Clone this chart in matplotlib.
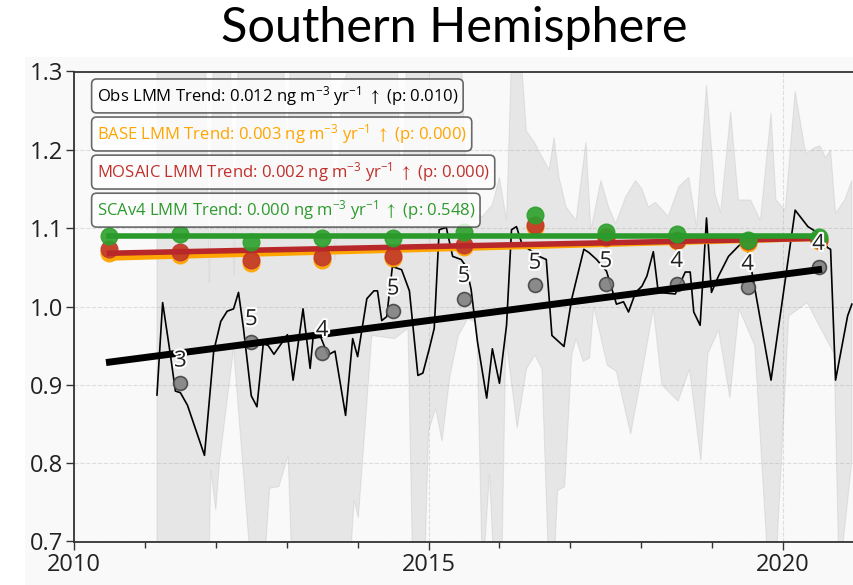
import numpy as np
import matplotlib
matplotlib.use("Agg")
import matplotlib.pyplot as plt
import matplotlib.patheffects as pe
from matplotlib.patches import Rectangle
from matplotlib.ticker import MultipleLocator

plt.rcParams['font.family'] = ['Open Sans', 'DejaVu Sans']
plt.rcParams['mathtext.fontset'] = 'custom'
plt.rcParams['mathtext.rm'] = 'Open Sans'
plt.rcParams['mathtext.default'] = 'regular'
plt.rcParams['mathtext.fallback'] = 'stixsans'

# monthly obs (black line)
obs_t = [2011.17, 2011.25, 2011.36, 2011.43, 2011.50, 2011.60, 2011.84, 2011.97, 2012.07, 2012.16,
         2012.25, 2012.32, 2012.39, 2012.50, 2012.58, 2012.67, 2012.74, 2012.82, 2013.01, 2013.09,
         2013.23, 2013.33, 2013.37, 2013.47, 2013.58, 2013.68, 2013.83, 2013.93, 2014.00, 2014.13,
         2014.23, 2014.28, 2014.34, 2014.41, 2014.49, 2014.62, 2014.73, 2014.85, 2014.92, 2015.01,
         2015.08, 2015.15, 2015.25, 2015.34, 2015.46, 2015.53, 2015.60, 2015.69, 2015.82, 2015.90,
         2016.00, 2016.10, 2016.17, 2016.24, 2016.32, 2016.56, 2016.66, 2016.74, 2016.91, 2017.02,
         2017.19, 2017.26, 2017.37, 2017.51, 2017.65, 2017.75, 2017.82, 2017.92, 2018.01, 2018.08,
         2018.17, 2018.24, 2018.48, 2018.62, 2018.69, 2018.74, 2018.83, 2018.92, 2018.99, 2019.09,
         2019.23, 2019.37, 2019.48, 2019.83, 2020.17, 2020.35, 2020.49, 2020.63, 2020.67, 2020.74,
         2020.91, 2020.97]
obs_v = [0.887, 1.005, 0.938, 0.892, 0.890, 0.874, 0.810, 0.943, 0.981, 0.994,
         0.997, 1.018, 0.972, 0.886, 0.872, 0.953, 0.950, 0.939, 0.964, 0.906,
         0.997, 0.921, 0.959, 0.963, 0.938, 0.943, 0.861, 0.959, 0.936, 1.010,
         1.020, 1.020, 0.982, 0.987, 1.051, 1.047, 1.020, 0.912, 0.915, 0.946,
         0.972, 1.098, 1.101, 1.064, 1.060, 1.051, 1.022, 0.955, 0.883, 0.946,
         0.902, 0.976, 1.098, 1.102, 1.079, 1.064, 1.060, 0.963, 0.949, 1.010,
         1.073, 1.069, 1.060, 1.045, 1.003, 1.006, 0.993, 1.018, 1.026, 1.039,
         1.070, 1.018, 1.016, 1.044, 1.044, 0.993, 0.976, 1.113, 1.018, 1.039,
         1.064, 1.077, 1.085, 0.906, 1.123, 1.102, 1.094, 1.075, 1.073, 0.906,
         0.988, 1.003]

# spread of the sites (grey band)
band_up_t = [2011.17, 2011.85, 2011.91, 2011.97, 2012.20, 2012.26, 2012.32, 2012.95, 2013.00, 2013.06,
             2013.60, 2013.68, 2013.78, 2014.05, 2014.55, 2014.62, 2014.70, 2015.45, 2015.55, 2015.76,
             2015.90, 2016.00, 2016.10, 2016.18, 2016.28, 2016.38, 2016.49, 2016.70, 2016.77, 2016.84,
             2016.94, 2017.08, 2017.22, 2017.29, 2017.43, 2017.54, 2017.64, 2017.78, 2017.92, 2018.01,
             2018.10, 2018.20, 2018.38, 2018.53, 2018.67, 2018.78, 2018.92, 2019.04, 2019.12, 2019.26,
             2019.37, 2019.54, 2019.68, 2019.83, 2019.90, 2020.03, 2020.17, 2020.32, 2020.45, 2020.52,
             2020.60, 2020.67, 2020.74, 2020.87, 2020.97]
band_up_v = [1.35, 1.35, 1.03, 1.35, 1.35, 1.04, 1.35, 1.35, 1.15, 1.35,
             1.35, 1.06, 1.28, 1.35, 1.35, 1.10, 1.35, 1.35, 1.12, 1.115,
             1.13, 1.165, 1.11, 1.35, 1.35, 1.224, 1.21, 1.174, 1.216, 1.165,
             1.127, 1.11, 1.21, 1.098, 1.161, 1.127, 1.106, 1.14, 1.161, 1.15,
             1.127, 1.133, 1.115, 1.153, 1.165, 1.102, 1.283, 1.144, 1.12, 1.249,
             1.136, 1.136, 1.11, 1.247, 1.136, 1.123, 1.275, 1.195, 1.203, 1.205,
             1.19, 1.2, 1.119, 1.136, 1.161]
band_lo_t = [2011.17, 2011.90, 2011.93, 2012.00, 2012.05, 2012.25, 2012.51, 2012.67, 2012.76, 2012.89,
             2013.02, 2013.08, 2013.88, 2013.95, 2014.01, 2014.20, 2014.52, 2014.71, 2014.78, 2014.94,
             2015.00, 2015.10, 2015.19, 2015.30, 2015.42, 2015.55, 2015.68, 2015.76, 2015.86, 2015.93,
             2016.03, 2016.09, 2016.25, 2016.38, 2016.50, 2016.60, 2016.70, 2016.76, 2016.82, 2016.92,
             2017.02, 2017.08, 2017.18, 2017.27, 2017.33, 2017.52, 2017.65, 2017.85, 2017.98, 2018.17,
             2018.29, 2018.52, 2018.68, 2018.84, 2018.94, 2019.09, 2019.25, 2019.38, 2019.60, 2019.80,
             2019.89, 2020.08, 2020.34, 2020.53, 2020.72, 2020.79, 2020.97]
band_lo_v = [0.65, 0.65, 0.791, 0.74, 0.80, 0.946, 0.65, 0.65, 0.768, 0.77,
             0.81, 0.65, 0.65, 0.753, 0.73, 0.963, 0.959, 0.972, 0.65, 0.65,
             0.841, 0.87, 0.828, 0.91, 0.963, 0.984, 0.98, 0.65, 0.786, 0.65,
             0.65, 0.959, 0.845, 0.92, 0.938, 0.92, 0.65, 0.65, 0.765, 0.77,
             0.938, 0.959, 0.93, 0.934, 1.0, 0.925, 0.917, 0.837, 0.90, 0.997,
             0.90, 0.879, 0.92, 0.803, 0.94, 0.97, 0.883, 0.997, 0.95, 0.65,
             0.65, 0.988, 1.005, 0.972, 0.94, 0.65, 0.803]

# annual means
years = [2010.5, 2011.5, 2012.5, 2013.5, 2014.5, 2015.5, 2016.5, 2017.5, 2018.5, 2019.5, 2020.5]
obs_years = years[1:]
obs_annual = [0.902, 0.955, 0.941, 0.994, 1.010, 1.027, 1.029, 1.029, 1.025, 1.051]
obs_nsites = [3, 5, 4, 5, 5, 5, 5, 4, 4, 4]
base_annual = [1.068, 1.066, 1.056, 1.060, 1.062, 1.076, 1.101, 1.087, 1.083, 1.081, 1.083]
mosaic_annual = [1.073, 1.069, 1.059, 1.063, 1.065, 1.079, 1.104, 1.089, 1.085, 1.083, 1.085]
scav4_annual = [1.090, 1.092, 1.082, 1.087, 1.087, 1.095, 1.117, 1.095, 1.092, 1.085, 1.089]

# LMM trend lines (ends)
trend_t = [2010.5, 2020.5]
obs_trend = [0.929, 1.047]
base_trend = [1.062, 1.087]
mosaic_trend = [1.068, 1.087]
scav4_trend = [1.090, 1.090]

labels = [
    (r"Obs LMM Trend: 0.012 ng m$^{-3}$ yr$^{-1}$ $\uparrow$ (p: 0.010)", 'black'),
    (r"BASE LMM Trend: 0.003 ng m$^{-3}$ yr$^{-1}$ $\uparrow$ (p: 0.000)", 'orange'),
    (r"MOSAIC LMM Trend: 0.002 ng m$^{-3}$ yr$^{-1}$ $\uparrow$ (p: 0.000)", '#c0302b'),
    (r"SCAv4 LMM Trend: 0.000 ng m$^{-3}$ yr$^{-1}$ $\uparrow$ (p: 0.548)", '#2e9a2e'),
]


def main():
    fig = plt.figure(figsize=(8.54, 5.85), dpi=100)
    fig.patches.append(Rectangle((25 / 854, 0), 1, (585 - 57) / 585, transform=fig.transFigure,
                                 facecolor='#f9f9f9', edgecolor='none', zorder=-10))
    ax = fig.add_axes([74 / 854, 43.5 / 585, 1 - 74 / 854, 470 / 585])
    ax.set_facecolor('#f9f9f9')

    ax.fill(np.concatenate([band_up_t, band_lo_t[::-1]]),
            np.concatenate([band_up_v, band_lo_v[::-1]]),
            facecolor='grey', alpha=0.15, edgecolor='grey', linewidth=0.8, zorder=1)
    ax.plot(obs_t, obs_v, color='black', lw=1.2, zorder=2)

    ms = 12
    ax.plot(years, base_annual, 'o', color='orange', ms=ms, alpha=0.9, zorder=3)
    ax.plot(trend_t, base_trend, color='orange', lw=4, zorder=3)
    ax.plot(years, mosaic_annual, 'o', color='#c0392b', ms=ms, alpha=0.9, zorder=4)
    ax.plot(trend_t, mosaic_trend, color='#b8282a', lw=4, zorder=4)
    ax.plot(years, scav4_annual, 'o', color='#2ca02c', ms=ms, alpha=0.9, zorder=5)
    ax.plot(trend_t, scav4_trend, color='#2a9a2a', lw=4, zorder=5)

    ax.plot(obs_years, obs_annual, 'o', color='grey', mec='#444444', mew=1.2, ms=10, alpha=0.9, zorder=6)
    ax.plot(trend_t, obs_trend, color='black', lw=5, zorder=6)
    for x, y, n in zip(obs_years, obs_annual, obs_nsites):
        ax.annotate(str(n), (x, y), xytext=(0, 16), textcoords='offset points',
                    ha='center', va='center', fontsize=16, color='#222222', zorder=8,
                    path_effects=[pe.withStroke(linewidth=3, foreground='white')])

    for i, (txt, c) in enumerate(labels):
        ax.text(0.029, 0.948 - i * 0.081, txt, transform=ax.transAxes, color=c,
                fontsize=12, va='center', ha='left', zorder=9,
                bbox=dict(boxstyle='round,pad=0.3', facecolor='white', alpha=0.8,
                          edgecolor='#444444', linewidth=1.2))

    ax.set_xlim(2010, 2021)
    ax.set_ylim(0.7, 1.3)
    ax.xaxis.set_major_locator(MultipleLocator(5))
    ax.xaxis.set_minor_locator(MultipleLocator(1))
    ax.yaxis.set_major_locator(MultipleLocator(0.1))
    ax.yaxis.set_major_formatter(matplotlib.ticker.FormatStrFormatter('%.1f'))
    ax.tick_params(axis='both', which='major', labelsize=17, length=6, width=1, color='#333333',
                   labelcolor='#222222', pad=2)
    ax.tick_params(axis='x', which='minor', length=4, width=1, color='#333333')
    ax.grid(True, which='major', linestyle='--', color='#dddddd', linewidth=0.8, zorder=0)
    ax.set_axisbelow(True)
    ax.spines['right'].set_visible(False)
    for s in ['left', 'bottom', 'top']:
        ax.spines[s].set_color('#333333')
        ax.spines[s].set_linewidth(1.3)

    fig.text(454 / 854, 1 - 28 / 585, "Southern Hemisphere", fontsize=35, family=['Lato', 'DejaVu Sans'],
             ha='center', va='center', color='black')

    fig.savefig("out.png", dpi=100)


if __name__ == '__main__':
    main()
